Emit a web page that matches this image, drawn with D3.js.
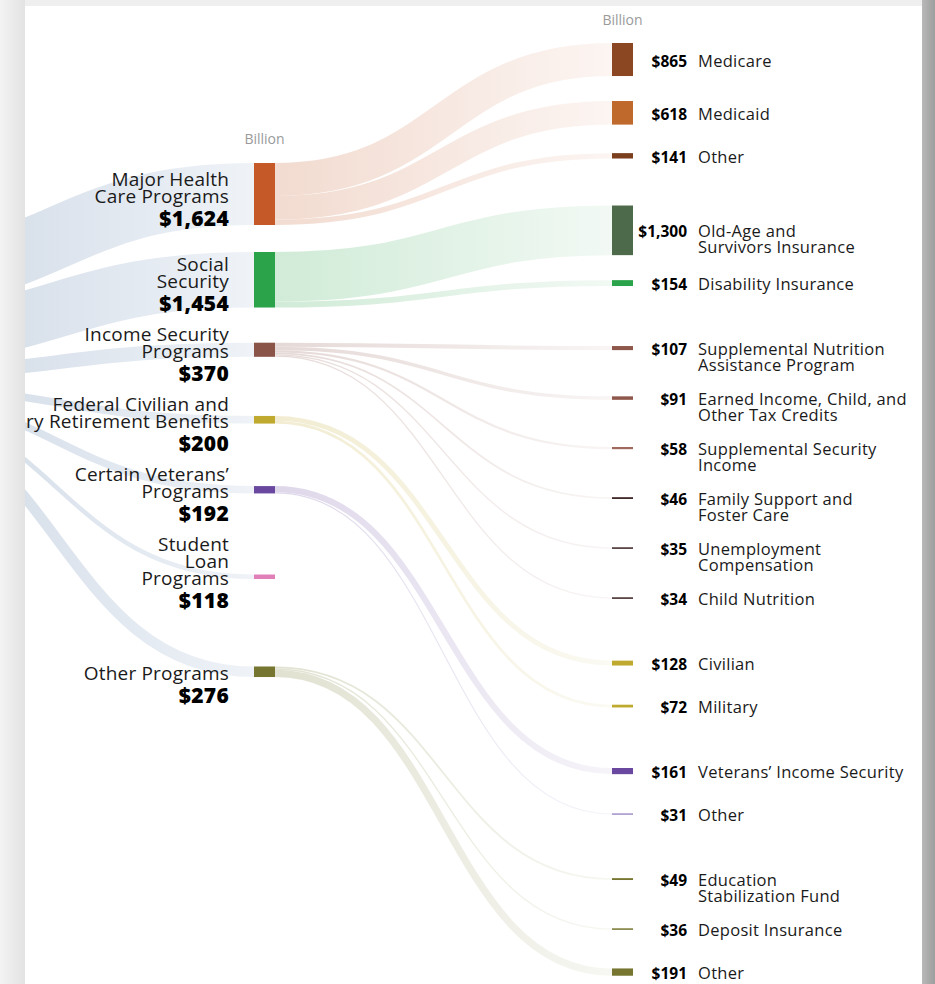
<!DOCTYPE html>
<html>
<head>
<meta charset="utf-8">
<script src="https://cdn.jsdelivr.net/npm/d3@7"></script>
<style>
  html, body { margin: 0; padding: 0; background: #f1f1f1; }
  svg { display: block; font-family: "Open Sans", Lato, sans-serif; }
</style>
</head>
<body>
<div id="chart"></div>
<script>
// mandatory outlays by program, billions of dollars
var programLines = [
  ["Major Health", "Care Programs"],
  ["Social", "Security"],
  ["Income Security", "Programs"],
  ["Federal Civilian and", "Military Retirement Benefits"],
  ["Certain Veterans\u2019", "Programs"],
  ["Student", "Loan", "Programs"],
  ["Other Programs"]
];
var programValues = [1624, 1454, 370, 200, 192, 118, 276];

// breakdown of each program (index into the programs above)
var subParent = [0, 0, 0, 1, 1, 2, 2, 2, 2, 2, 2, 3, 3, 4, 4, 6, 6, 6];
var subLines = [
  ["Medicare"],
  ["Medicaid"],
  ["Other"],
  ["Old-Age and", "Survivors Insurance"],
  ["Disability Insurance"],
  ["Supplemental Nutrition", "Assistance Program"],
  ["Earned Income, Child, and", "Other Tax Credits"],
  ["Supplemental Security", "Income"],
  ["Family Support and", "Foster Care"],
  ["Unemployment", "Compensation"],
  ["Child Nutrition"],
  ["Civilian"],
  ["Military"],
  ["Veterans\u2019 Income Security"],
  ["Other"],
  ["Education", "Stabilization Fund"],
  ["Deposit Insurance"],
  ["Other"]
];
var subValues = [865, 618, 141, 1300, 154, 107, 91, 58, 46, 35, 34, 128, 72, 161, 31, 49, 36, 191];

// colours
var programColors = ["#c55a28", "#2ba34a", "#8b5448", "#bfa92f", "#6a48a0", "#e07fb8", "#767630"];
var subColors = ["#8b4722", "#c0692d", "#7b3f1e", "#4d6a4b", "#2ba34a", "#8e574b", "#8e574b", "#a0695e",
  "#3b2222", "#3b2222", "#3b2222", "#bfa92f", "#bfa92f", "#6a48a0", "#a190c8", "#767630", "#767630", "#767630"];

var width = 935, height = 984;
var card = {x: 25, y: 6, w: 897, h: 1000};
var xSrc = -140, xMid = 254, xSub = 612, nodeW = 21;

// value -> pixel thickness
var h = d3.scaleLinear().domain([0, 1624]).range([0, 62]);
var fmt = d3.format("$,");

var mid = programValues.map(function(v, i) {
  return {lines: programLines[i], value: v, color: programColors[i], h: h(v), kids: []};
});
var subs = subValues.map(function(v, i) {
  return {lines: subLines[i], value: v, parent: subParent[i], color: subColors[i],
    w: h(v), h: Math.max(h(v), 1.5)};
});
subs.forEach(function(s) { mid[s.parent].kids.push(s); });

// middle column: stack with room for the labels,
// and extra room after a program that has no breakdown
mid.forEach(function(d, i) {
  if (i === 0) { d.cy = 163 + d.h / 2; return; }
  var p = mid[i - 1];
  var step = Math.max((p.h + d.h) / 2 + 27, 36 + 17 * d.lines.length);
  if (!p.kids.length) step += 42;
  d.cy = p.cy + step;
});
mid.forEach(function(d) { d.y0 = d.cy - d.h / 2; });

// right column
subs.forEach(function(d, i) {
  if (i === 0) { d.cy = 43 + d.h / 2; return; }
  var p = subs[i - 1];
  var step = Math.max(p.lines.length > 1 ? 50 : 43, (p.h + d.h) / 2 + 25);
  if (p.parent !== d.parent) step += 22;
  d.cy = p.cy + step;
});

// links
var srcLinks = [], subLinks = [];
var off = 250;
mid.forEach(function(d) {
  srcLinks.push({sy: off + d.h / 2, ty: d.cy, w: d.h});
  off += d.h;
  var o = d.y0;
  d.kids.forEach(function(k) {
    subLinks.push({sy: o + k.w / 2, ty: k.cy, w: k.w, parent: k.parent});
    o += k.w;
  });
});

var svg = d3.select("#chart").append("svg")
  .attr("width", width)
  .attr("height", height);

var defs = svg.append("defs");

// page background and card
var shadow = defs.append("linearGradient").attr("id", "rshadow");
shadow.append("stop").attr("offset", "0%").attr("stop-color", "#b8b8b8");
shadow.append("stop").attr("offset", "100%").attr("stop-color", "#9e9e9e");
var lshadow = defs.append("linearGradient").attr("id", "lshadow");
lshadow.append("stop").attr("offset", "0%").attr("stop-color", "#f3f3f3");
lshadow.append("stop").attr("offset", "100%").attr("stop-color", "#e3e3e3");

svg.append("rect").attr("width", width).attr("height", height).attr("fill", "#efefef");
svg.append("rect").attr("x", 0).attr("y", 0).attr("width", card.x).attr("height", height).attr("fill", "url(#lshadow)");
svg.append("rect").attr("x", card.x + card.w).attr("y", 0).attr("width", width - card.x - card.w)
  .attr("height", height).attr("fill", "url(#rshadow)");
svg.append("rect").attr("x", card.x).attr("y", card.y).attr("width", card.w).attr("height", card.h)
  .attr("fill", "#fff");

defs.append("clipPath").attr("id", "cardclip").append("rect")
  .attr("x", card.x).attr("y", card.y).attr("width", card.w).attr("height", card.h);

var g = svg.append("g").attr("clip-path", "url(#cardclip)");

var lg = defs.append("linearGradient").attr("id", "srcgrad")
  .attr("gradientUnits", "userSpaceOnUse")
  .attr("x1", card.x).attr("x2", xMid).attr("y1", 0).attr("y2", 0);
lg.append("stop").attr("offset", "0%").attr("stop-color", "#d9e1eb");
lg.append("stop").attr("offset", "100%").attr("stop-color", "#eff3f8");

mid.forEach(function(d, i) {
  var gr = defs.append("linearGradient").attr("id", "mg" + i)
    .attr("gradientUnits", "userSpaceOnUse")
    .attr("x1", xMid + nodeW).attr("x2", xSub).attr("y1", 0).attr("y2", 0);
  gr.append("stop").attr("offset", "0%").attr("stop-color", d3.interpolateRgb(d.color, "#fff")(0.78));
  gr.append("stop").attr("offset", "100%").attr("stop-color", d3.interpolateRgb(d.color, "#fff")(0.94));
});

var link = d3.linkHorizontal();

g.append("g").selectAll("path")
  .data(srcLinks)
  .join("path")
    .attr("d", function(d) { return link({source: [xSrc, d.sy], target: [xMid, d.ty]}); })
    .attr("fill", "none")
    .attr("stroke", "url(#srcgrad)")
    .attr("stroke-width", function(d) { return d.w; });

g.append("g").selectAll("path")
  .data(subLinks)
  .join("path")
    .attr("d", function(d) { return link({source: [xMid + nodeW, d.sy], target: [xSub, d.ty]}); })
    .attr("fill", "none")
    .attr("stroke", function(d) { return "url(#mg" + d.parent + ")"; })
    .attr("stroke-width", function(d) { return d.w; });

// nodes
g.append("g").selectAll("rect")
  .data(mid)
  .join("rect")
    .attr("x", xMid)
    .attr("y", function(d) { return d.y0; })
    .attr("width", nodeW)
    .attr("height", function(d) { return d.h; })
    .attr("fill", function(d) { return d.color; });

g.append("g").selectAll("rect")
  .data(subs)
  .join("rect")
    .attr("x", xSub)
    .attr("y", function(d) { return d.cy - d.h / 2; })
    .attr("width", nodeW)
    .attr("height", function(d) { return d.h; })
    .attr("fill", function(d) { return d.color; });

// middle labels
var ml = g.append("g").attr("text-anchor", "end").attr("fill", "#1a1a1a");
mid.forEach(function(d) {
  var n = d.lines.length;
  d.lines.forEach(function(t, j) {
    ml.append("text")
      .attr("x", xMid - 25)
      .attr("y", d.cy + 2 - (n - 1 - j) * 17 + 6.5)
      .attr("font-size", 19)
      .attr("letter-spacing", 0.2)
      .text(t);
  });
  ml.append("text")
    .attr("x", xMid - 25)
    .attr("y", d.cy + 24 + 7.5)
    .attr("font-size", 21)
    .attr("font-weight", 800)
    .attr("letter-spacing", 0.3)
    .attr("fill", "#000")
    .text(fmt(d.value));
});

// right labels
var rl = g.append("g").attr("fill", "#1a1a1a");
subs.forEach(function(d) {
  rl.append("text")
    .attr("x", xSub + nodeW + 54)
    .attr("y", d.cy + 1.5 + 5.5)
    .attr("text-anchor", "end")
    .attr("font-size", 15.5)
    .attr("font-weight", 700)
    .attr("fill", "#000")
    .text(fmt(d.value));
  d.lines.forEach(function(t, j) {
    rl.append("text")
      .attr("x", xSub + nodeW + 65)
      .attr("y", d.cy + 1.5 + j * 16 + 5.5)
      .attr("font-size", 16.5)
      .attr("letter-spacing", 0.3)
      .text(t);
  });
});

// unit labels
g.append("text")
  .attr("x", xMid + nodeW / 2)
  .attr("y", mid[0].y0 - 24 + 5)
  .attr("text-anchor", "middle")
  .attr("font-size", 14)
  .attr("fill", "#9a9a9a")
  .text("Billion");
g.append("text")
  .attr("x", xSub + nodeW / 2)
  .attr("y", subs[0].cy - subs[0].h / 2 - 23 + 5)
  .attr("text-anchor", "middle")
  .attr("font-size", 14)
  .attr("fill", "#9a9a9a")
  .text("Billion");
</script>
</body>
</html>
